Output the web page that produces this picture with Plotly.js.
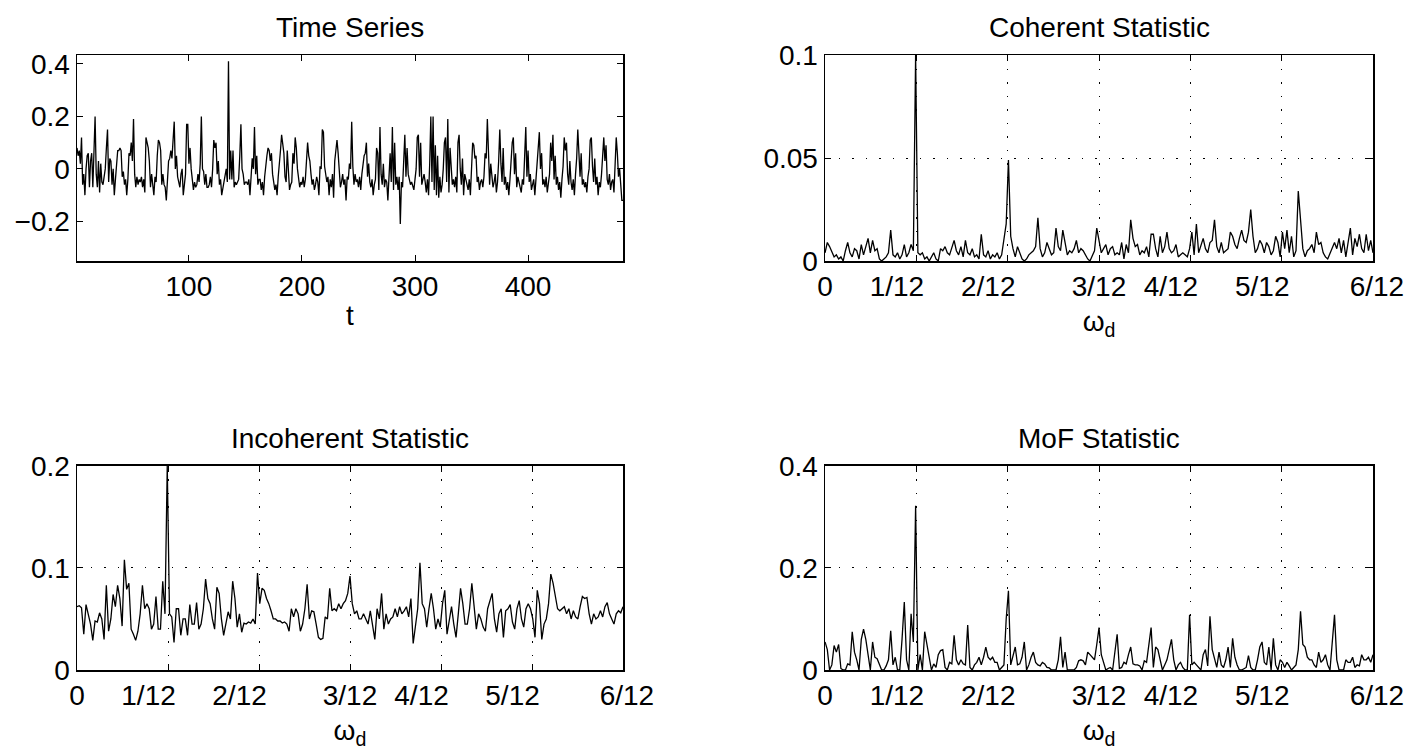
<!DOCTYPE html>
<html>
<head>
<meta charset="utf-8">
<script src="https://cdn.plot.ly/plotly-3.0.1.min.js"></script>
<style>html,body{margin:0;padding:0;background:#fff;}#chart{width:1406px;height:754px;}</style>
</head>
<body>
<div id="chart"></div>
<script>
// ---- Data ----
const seriesLength = 484;

const timeSeries = [
0.08,0.05,0.07,0.02,0.12,-0.06,-0.02,-0.1,0.0,0.05,
0.06,-0.07,0.03,0.06,-0.07,0.05,0.2,-0.02,-0.07,0.03,
-0.09,0.02,-0.05,-0.06,-0.02,0.0,0.08,0.15,-0.05,0.04,
0.03,-0.06,0.0,-0.1,-0.04,0.02,0.07,0.07,0.08,0.07,
-0.03,-0.01,-0.06,-0.04,-0.1,-0.04,0.06,0.05,0.1,0.03,
0.19,-0.02,-0.07,-0.03,-0.06,-0.04,-0.05,-0.03,-0.07,-0.04,
-0.09,0.12,0.1,0.08,0.03,-0.07,-0.02,-0.06,-0.1,-0.03,
-0.05,0.05,0.11,0.1,0.07,-0.06,-0.02,-0.06,-0.07,-0.12,
-0.05,0.03,0.04,0.07,0.04,0.1,0.18,0.0,0.05,-0.03,
-0.05,-0.07,-0.02,0.0,-0.1,-0.05,-0.02,0.17,0.17,0.02,
0.08,0.0,-0.04,-0.08,-0.05,-0.07,-0.06,-0.02,-0.05,0.02,
0.2,0.0,-0.01,-0.06,-0.02,-0.07,-0.07,-0.06,-0.03,-0.07,
0.0,0.11,0.08,0.1,-0.02,0.03,-0.06,-0.04,-0.1,-0.07,
-0.05,-0.02,0.0,-0.05,0.41,-0.04,0.07,-0.04,0.07,-0.07,
-0.05,-0.06,-0.05,-0.04,0.05,0.17,0.0,-0.02,-0.06,-0.05,
-0.05,-0.06,-0.04,-0.1,-0.03,0.04,0.0,0.16,-0.02,0.05,
-0.06,-0.04,-0.04,-0.08,-0.05,-0.1,-0.03,0.02,0.05,0.08,
0.07,0.03,0.06,-0.02,-0.06,-0.08,-0.06,-0.1,-0.03,0.04,
0.07,0.13,0.1,0.06,-0.03,-0.05,0.07,-0.02,-0.08,-0.06,
-0.05,0.06,0.02,0.12,0.08,0.0,-0.05,-0.07,-0.05,-0.06,
-0.03,-0.07,-0.04,0.04,0.1,0.05,0.03,-0.02,-0.06,-0.04,
-0.08,-0.06,-0.03,-0.05,-0.1,0.01,0.0,0.15,0.14,0.01,
-0.03,-0.05,-0.03,-0.1,-0.04,-0.07,-0.02,-0.11,0.03,0.08,
0.11,0.06,-0.03,-0.07,-0.05,-0.02,-0.06,-0.04,-0.12,-0.03,
-0.04,0.02,0.0,0.18,0.01,-0.06,-0.02,-0.05,-0.04,-0.07,
-0.03,-0.08,-0.02,0.03,0.05,0.06,0.1,-0.03,0.02,-0.05,
-0.07,-0.04,-0.1,-0.06,-0.04,0.08,0.06,-0.08,0.16,-0.02,
-0.06,0.02,-0.07,-0.04,-0.05,-0.12,-0.05,0.06,-0.05,0.16,
-0.08,0.1,-0.06,-0.03,-0.08,-0.03,-0.21,-0.05,-0.07,0.05,
0.13,-0.03,0.08,-0.02,-0.04,-0.06,-0.05,-0.07,-0.08,-0.04,
0.0,0.12,0.13,-0.03,0.1,-0.06,-0.04,-0.02,-0.05,-0.09,
-0.04,-0.1,0.02,0.2,-0.05,0.2,-0.08,0.09,-0.1,0.05,
-0.11,-0.03,-0.09,-0.06,0.0,0.1,0.12,-0.05,0.19,-0.09,
0.08,-0.02,-0.06,-0.04,-0.07,-0.03,-0.09,0.1,0.13,0.0,
-0.06,0.04,-0.1,-0.02,-0.05,-0.06,-0.08,-0.04,-0.1,0.02,
0.1,0.09,0.04,0.05,-0.05,-0.03,-0.08,-0.05,-0.04,-0.07,
-0.03,0.06,0.04,0.19,0.05,-0.06,0.02,-0.04,-0.07,-0.05,
-0.02,-0.09,-0.05,0.03,0.15,0.02,-0.05,0.08,-0.06,-0.03,
-0.08,-0.05,-0.1,-0.04,0.02,0.1,0.12,-0.02,0.06,-0.07,
-0.03,-0.05,-0.06,-0.09,-0.04,-0.06,0.05,0.16,-0.03,0.07,
-0.05,-0.02,-0.08,-0.06,-0.04,-0.1,-0.03,0.04,0.09,0.14,
0.0,0.06,-0.06,-0.04,-0.07,-0.03,-0.09,-0.05,-0.02,0.1,
0.03,0.13,-0.04,0.05,-0.06,-0.03,-0.08,-0.05,-0.11,-0.04,
0.01,0.12,0.07,0.1,-0.02,-0.06,0.03,-0.05,-0.08,-0.04,
-0.1,-0.02,0.04,0.15,0.05,-0.03,0.06,-0.06,-0.04,-0.07,
-0.05,-0.09,-0.03,0.0,0.11,0.12,0.01,-0.05,0.04,-0.06,
-0.03,-0.1,-0.05,-0.07,-0.02,0.08,0.12,0.03,0.09,-0.04,
-0.06,-0.02,-0.08,-0.05,-0.04,-0.09,0.03,0.12,0.06,-0.03,
0.0,-0.05,-0.12,-0.12
];

const coherent = [
0.004,0.009,0.007,0.004,0.002,0.003,0.001,0.002,0.0,0.005,
0.009,0.004,0.002,0.006,0.005,0.001,0.008,0.003,0.007,0.011,
0.004,0.01,0.005,0.006,0.001,0.0,0.001,0.002,0.004,0.015,
0.003,0.002,0.004,0.001,0.003,0.008,0.002,0.004,0.008,0.005,
0.1,0.004,0.003,0.004,0.001,0.002,0.0,0.002,0.004,0.001,
0.0,0.006,0.005,0.007,0.004,0.003,0.006,0.01,0.005,0.003,
0.007,0.002,0.01,0.004,0.003,0.006,0.002,0.003,0.001,0.013,
0.003,0.002,0.005,0.001,0.003,0.002,0.004,0.001,0.003,0.012,
0.018,0.049,0.012,0.006,0.002,0.007,0.004,0.001,0.0,0.001,
0.003,0.004,0.005,0.007,0.021,0.006,0.002,0.004,0.009,0.006,
0.003,0.004,0.016,0.007,0.005,0.015,0.008,0.003,0.005,0.004,
0.006,0.01,0.004,0.006,0.005,0.003,0.001,0.0,0.003,0.005,
0.016,0.009,0.004,0.006,0.008,0.003,0.006,0.007,0.003,0.004,
0.003,0.009,0.001,0.008,0.004,0.02,0.011,0.007,0.008,0.003,
0.005,0.004,0.007,0.002,0.013,0.013,0.006,0.002,0.012,0.004,
0.007,0.014,0.006,0.004,0.005,0.008,0.002,0.003,0.004,0.003,
0.002,0.006,0.014,0.003,0.018,0.004,0.008,0.011,0.006,0.004,
0.009,0.01,0.02,0.007,0.004,0.009,0.004,0.005,0.006,0.014,
0.012,0.008,0.006,0.011,0.015,0.01,0.009,0.014,0.025,0.012,
0.004,0.006,0.01,0.008,0.004,0.009,0.007,0.003,0.005,0.012,
0.009,0.002,0.014,0.006,0.015,0.004,0.012,0.002,0.005,0.034,
0.02,0.006,0.002,0.005,0.006,0.008,0.004,0.014,0.008,0.009,
0.004,0.002,0.001,0.004,0.007,0.009,0.006,0.011,0.004,0.01,
0.002,0.008,0.016,0.003,0.011,0.007,0.013,0.006,0.004,0.013,
0.005,0.01,0.004
];

const incoherent = [
0.062,0.063,0.061,0.035,0.064,0.055,0.045,0.029,0.048,0.047,
0.056,0.05,0.03,0.083,0.038,0.05,0.074,0.062,0.083,0.07,
0.043,0.108,0.079,0.085,0.04,0.035,0.029,0.038,0.055,0.083,
0.06,0.065,0.06,0.04,0.045,0.072,0.04,0.04,0.087,0.055,
0.2,0.055,0.052,0.027,0.06,0.06,0.034,0.05,0.05,0.034,
0.064,0.045,0.045,0.066,0.04,0.045,0.06,0.089,0.07,0.065,
0.05,0.04,0.081,0.075,0.05,0.034,0.045,0.057,0.05,0.087,
0.07,0.042,0.055,0.037,0.046,0.045,0.047,0.046,0.05,0.045,
0.095,0.065,0.08,0.078,0.07,0.065,0.058,0.05,0.05,0.048,
0.048,0.046,0.047,0.045,0.038,0.06,0.052,0.06,0.055,0.038,
0.045,0.06,0.084,0.05,0.058,0.057,0.045,0.032,0.03,0.031,
0.052,0.05,0.08,0.058,0.06,0.058,0.065,0.06,0.065,0.068,
0.075,0.092,0.065,0.055,0.058,0.05,0.05,0.055,0.05,0.045,
0.058,0.045,0.03,0.06,0.05,0.075,0.04,0.055,0.045,0.05,
0.052,0.06,0.052,0.062,0.055,0.058,0.062,0.052,0.07,0.026,
0.045,0.06,0.105,0.065,0.06,0.042,0.06,0.075,0.06,0.04,
0.05,0.042,0.065,0.078,0.035,0.05,0.062,0.045,0.032,0.055,
0.08,0.065,0.045,0.045,0.06,0.085,0.065,0.04,0.055,0.05,
0.042,0.038,0.06,0.068,0.075,0.05,0.037,0.055,0.06,0.032,
0.058,0.06,0.064,0.047,0.04,0.06,0.068,0.05,0.042,0.06,
0.065,0.06,0.05,0.032,0.078,0.065,0.03,0.045,0.05,0.065,
0.094,0.085,0.072,0.06,0.058,0.06,0.062,0.055,0.06,0.05,
0.058,0.052,0.05,0.062,0.072,0.07,0.071,0.055,0.045,0.055,
0.05,0.052,0.058,0.052,0.062,0.066,0.055,0.05,0.045,0.055,
0.058,0.056,0.062
];

const mof = [
0.055,0.04,0.0,0.01,0.048,0.035,0.05,0.003,0.0,0.0,
0.012,0.01,0.075,0.035,0.02,0.0,0.06,0.08,0.06,0.03,
0.0,0.055,0.025,0.022,0.012,0.0,0.0,0.008,0.02,0.077,
0.01,0.025,0.0,0.0,0.06,0.133,0.02,0.0,0.11,0.055,
0.322,0.0,0.03,0.0,0.075,0.05,0.03,0.0,0.012,0.005,
0.03,0.038,0.04,0.005,0.0,0.015,0.012,0.068,0.02,0.01,
0.02,0.012,0.01,0.088,0.005,0.0,0.01,0.015,0.025,0.01,
0.025,0.045,0.025,0.02,0.025,0.015,0.015,0.0,0.005,0.01,
0.1,0.155,0.01,0.03,0.045,0.01,0.012,0.025,0.055,0.0,
0.01,0.025,0.035,0.015,0.01,0.008,0.015,0.012,0.005,0.004,
0.0,0.0,0.0,0.02,0.065,0.005,0.035,0.0,0.0,0.0,
0.0,0.005,0.018,0.02,0.018,0.01,0.035,0.03,0.025,0.02,
0.05,0.083,0.03,0.015,0.0,0.003,0.005,0.0,0.04,0.07,
0.003,0.005,0.015,0.012,0.03,0.045,0.012,0.01,0.01,0.008,
0.0,0.018,0.015,0.05,0.083,0.005,0.045,0.04,0.02,0.0,
0.01,0.02,0.04,0.06,0.02,0.0,0.01,0.015,0.005,0.0,
0.0,0.108,0.01,0.015,0.01,0.005,0.0,0.03,0.04,0.008,
0.105,0.04,0.02,0.005,0.035,0.01,0.005,0.02,0.045,0.005,
0.062,0.025,0.01,0.0,0.0,0.002,0.005,0.028,0.005,0.0,
0.0,0.02,0.045,0.055,0.015,0.01,0.045,0.0,0.062,0.01,
0.0,0.02,0.015,0.005,0.015,0.008,0.0,0.005,0.01,0.04,
0.115,0.05,0.045,0.025,0.02,0.02,0.01,0.005,0.035,0.015,
0.02,0.03,0.01,0.0,0.05,0.108,0.02,0.0,0.0,0.0,
0.02,0.015,0.015,0.025,0.005,0.01,0.008,0.03,0.02,0.02,
0.025,0.015,0.03
];

const freqTickVals = [0, 1/12, 2/12, 3/12, 4/12, 5/12, 6/12];
const freqTickText = ['0', '1/12', '2/12', '3/12', '4/12', '5/12', '6/12'];
const titles = ['Time Series', 'Coherent Statistic', 'Incoherent Statistic', 'MoF Statistic'];

// ---- Build axes ----
const t = timeSeries.map((_, i) => i + 1);
const omega = coherent.map((_, k) => k / seriesLength);

const FONT = 'Liberation Sans, Arial, Helvetica, sans-serif';
const FS = 28;
const lineStyle = {color: '#000', width: 1.3};

// The reference draws some fraction labels slightly left of their ticks;
// reproduce that with non-breaking-space padding (labels stay real tick labels).
const NB = '\u00A0';
const pad = [0, -5, -5, 0, -5, -5, 1];
const freqTickShown = freqTickText.map((s, i) =>
  pad[i] < 0 ? s + NB.repeat(-pad[i]) : (pad[i] > 0 ? NB.repeat(pad[i]) + s : s));

const traces = [
  {x: t, y: timeSeries, xaxis: 'x', yaxis: 'y', type: 'scatter', mode: 'lines', line: lineStyle, hoverinfo: 'skip'},
  {x: omega, y: coherent, xaxis: 'x2', yaxis: 'y2', type: 'scatter', mode: 'lines', line: lineStyle, hoverinfo: 'skip'},
  {x: omega, y: incoherent, xaxis: 'x3', yaxis: 'y3', type: 'scatter', mode: 'lines', line: lineStyle, hoverinfo: 'skip'},
  {x: omega, y: mof, xaxis: 'x4', yaxis: 'y4', type: 'scatter', mode: 'lines', line: lineStyle, hoverinfo: 'skip'}
];

function baseAxis(extra) {
  return Object.assign({
    showline: true, linecolor: '#000', linewidth: 1.5, mirror: 'ticks',
    ticks: 'inside', ticklen: 6, tickwidth: 1, tickcolor: '#000',
    zeroline: false, showgrid: false, tickangle: 0, ticklabeloverflow: 'allow',
    tickfont: {family: FONT, size: FS, color: '#000'},
    fixedrange: true
  }, extra);
}
const gridStyle = {showgrid: true, gridcolor: '#000', gridwidth: 1, griddash: '1.5px,12px'};

const dL = [0, 0.4213], dR = [0.5772, 1];
const dT = [0.665, 1], dB = [0, 0.332];

const omegaTitle = {text: 'ω<sub>d</sub>', font: {family: FONT, size: FS, color: '#000'}, standoff: 10};

const layout = {
  width: 1406, height: 754,
  margin: {l: 77, r: 33, t: 55, b: 84},
  paper_bgcolor: '#fff', plot_bgcolor: '#fff',
  showlegend: false,
  font: {family: FONT, size: FS, color: '#000'},
  xaxis: baseAxis({domain: dL, anchor: 'y', range: [1, seriesLength], tickvals: [100, 200, 300, 400],
    title: {text: 't', font: {family: FONT, size: FS, color: '#000'}, standoff: 4}}),
  yaxis: baseAxis({domain: dT, anchor: 'x', range: [-0.351, 0.434], tickvals: [-0.2, 0, 0.2, 0.4],
    ticktext: ['\u22120.2', '0', '0.2', '0.4']}),
  xaxis2: baseAxis(Object.assign({domain: dR, anchor: 'y2', range: [0, 0.5], tickvals: freqTickVals, ticktext: freqTickShown, title: omegaTitle}, gridStyle)),
  yaxis2: baseAxis(Object.assign({domain: dT, anchor: 'x2', range: [0, 0.1], tickvals: [0, 0.05, 0.1], ticktext: ['0', '0.05', '0.1']}, gridStyle)),
  xaxis3: baseAxis(Object.assign({domain: dL, anchor: 'y3', range: [0, 0.5], tickvals: freqTickVals, ticktext: freqTickShown, title: omegaTitle}, gridStyle)),
  yaxis3: baseAxis(Object.assign({domain: dB, anchor: 'x3', range: [0, 0.2], tickvals: [0, 0.1, 0.2], ticktext: ['0', '0.1', '0.2']}, gridStyle)),
  xaxis4: baseAxis(Object.assign({domain: dR, anchor: 'y4', range: [0, 0.5], tickvals: freqTickVals, ticktext: freqTickShown, title: omegaTitle}, gridStyle)),
  yaxis4: baseAxis(Object.assign({domain: dB, anchor: 'x4', range: [0, 0.4], tickvals: [0, 0.2, 0.4], ticktext: ['0', '0.2', '0.4']}, gridStyle)),
  annotations: titles.map((txt, i) => ({
    text: txt, showarrow: false,
    xref: (i === 0 ? 'x' : 'x' + (i + 1)) + ' domain',
    yref: (i === 0 ? 'y' : 'y' + (i + 1)) + ' domain',
    x: 0.5, y: 1, xanchor: 'center', yanchor: 'bottom', yshift: 10,
    font: {family: FONT, size: FS, color: '#000'}
  }))
};

Plotly.newPlot('chart', traces, layout, {displayModeBar: false, staticPlot: true});
</script>
</body>
</html>
